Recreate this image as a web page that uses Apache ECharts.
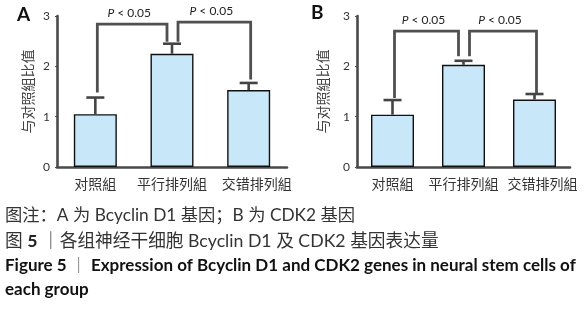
<!DOCTYPE html>
<html>
<head>
<meta charset="utf-8">
<script src="https://cdn.jsdelivr.net/npm/echarts@6/dist/echarts.min.js"></script>
<style>
  html, body { margin: 0; padding: 0; background: #fff; }
  #main { width: 588px; height: 310px; }
</style>
</head>
<body>
<div id="main"></div>
<script>
// 分组
const categories = ['对照組', '平行排列組', '交错排列組'];

// A: Bcyclin D1
const meanA = [1.05, 2.25, 1.53];
const errA = [0.33, 0.20, 0.14];
// B: CDK2
const meanB = [1.04, 2.03, 1.34];
const errB = [0.29, 0.08, 0.11];

// 显著性括号 [起点组, 终点组, 起点高度, 顶部高度, 终点高度]
const bracketsA = [[0, 1, 1.48, 2.84, 2.49], [1, 2, 2.49, 2.88, 1.74]];
const bracketsB = [[0, 1, 1.37, 2.70, 2.20], [1, 2, 2.20, 2.70, 1.47]];

const captionNote = '图注：A 为 Bcyclin D1 基因；B 为 CDK2 基因';
const captionCn = '各组神经干细胞 Bcyclin D1 及 CDK2 基因表达量';
const captionEn1 = 'Expression of Bcyclin D1 and CDK2 genes in neural stem cells of';
const captionEn2 = 'each group';

const cjk = "Lato, 'Noto Sans CJK SC', sans-serif";
const axisColor = '#4a4a4a';

function errorItem(params, api) {
  let x = api.coord([api.value(0), 0])[0];
  let yMean = api.coord([api.value(0), api.value(1)])[1];
  let yTop = api.coord([api.value(0), api.value(2)])[1];
  let style = { stroke: '#444', lineWidth: 2.6 };
  return {
    type: 'group',
    children: [
      { type: 'line', shape: { x1: x, y1: yMean, x2: x, y2: yTop }, style },
      { type: 'line', shape: { x1: x - 9, y1: yTop, x2: x + 9, y2: yTop }, style }
    ]
  };
}

function bracketItem(params, api) {
  let from = api.value(0), to = api.value(1);
  let x1 = api.coord([from, 0])[0] + (from === 1 ? 6 : 2);
  let x2 = api.coord([to, 0])[0] + (to === 1 ? -5 : 2);
  let yS = api.coord([from, api.value(2)])[1];
  let yT = api.coord([from, api.value(3)])[1];
  let yE = api.coord([from, api.value(4)])[1];
  return {
    type: 'group',
    children: [
      {
        type: 'polyline',
        shape: { points: [[x1, yS], [x1, yT], [x2, yT], [x2, yE]] },
        style: { stroke: '#505050', lineWidth: 2.8, fill: 'none' }
      },
      {
        type: 'text',
        style: {
          x: (x1 + x2) / 2 - 3, y: yT - 11,
          text: '{i|P} < 0.05',
          align: 'center', verticalAlign: 'middle',
          fill: '#222', fontSize: 12, fontFamily: 'Lato, sans-serif',
          rich: { i: { fontStyle: 'italic', fontSize: 12, fontFamily: 'Lato, sans-serif', fill: '#222' } }
        }
      }
    ]
  };
}

function makeX(gridIndex) {
  return {
    type: 'category', gridIndex, data: categories,
    axisLine: { lineStyle: { color: axisColor, width: 2.6 } },
    axisTick: { show: false },
    axisLabel: {
      interval: 0, color: '#333', fontSize: 14, margin: 10, fontFamily: cjk,
      // 最后一个标签略向右偏
      formatter: (v, i) => (i === 2 ? '{r|' + v + '}' : v),
      rich: { r: { padding: [0, 0, 0, 16], color: '#333', fontSize: 14, fontFamily: cjk } }
    }
  };
}
function makeY(gridIndex, gap) {
  return {
    type: 'value', gridIndex, min: 0, max: 3, interval: 1,
    name: '与对照組比值', nameLocation: 'middle', nameGap: gap,
    nameTextStyle: { color: '#444', fontSize: 14, fontFamily: cjk },
    axisLine: { show: true, lineStyle: { color: axisColor, width: 2.6 } },
    axisTick: { show: true, length: 2, lineStyle: { color: axisColor } },
    splitLine: { show: false },
    axisLabel: { color: '#333', fontSize: 12, margin: 7, fontFamily: 'Lato, sans-serif' }
  };
}

let chart = echarts.init(document.getElementById('main'), null, { renderer: 'canvas' });
let barStyle = { color: '#c8e7f8', borderColor: '#111', borderWidth: 1.4 };

let option = {
  backgroundColor: '#fff',
  animation: false,
  grid: [
    { left: 57, top: 16, width: 230, height: 151 },
    { left: 357, top: 16, width: 213, height: 151 }
  ],
  xAxis: [makeX(0), makeX(1)],
  yAxis: [makeY(0, 22), makeY(1, 27)],
  series: [
    { type: 'bar', xAxisIndex: 0, yAxisIndex: 0, data: meanA, barWidth: 43, itemStyle: barStyle, z: 2 },
    { type: 'bar', xAxisIndex: 1, yAxisIndex: 1, data: meanB, barWidth: 43, itemStyle: barStyle, z: 2 },
    {
      type: 'custom', xAxisIndex: 0, yAxisIndex: 0, renderItem: errorItem, z: 3,
      encode: { x: 0, y: [1, 2] },
      data: meanA.map((m, i) => [i, m, m + errA[i]])
    },
    {
      type: 'custom', xAxisIndex: 1, yAxisIndex: 1, renderItem: errorItem, z: 3,
      encode: { x: 0, y: [1, 2] },
      data: meanB.map((m, i) => [i, m, m + errB[i]])
    },
    {
      type: 'custom', xAxisIndex: 0, yAxisIndex: 0, renderItem: bracketItem, z: 4,
      encode: { x: [0, 1], y: [2, 3, 4] }, data: bracketsA
    },
    {
      type: 'custom', xAxisIndex: 1, yAxisIndex: 1, renderItem: bracketItem, z: 4,
      encode: { x: [0, 1], y: [2, 3, 4] }, data: bracketsB
    }
  ],
  graphic: [
    { type: 'text', left: 17, top: 5, style: { text: 'A', font: 'bold 19px Lato, sans-serif', fill: '#111' } },
    { type: 'text', left: 311, top: 3, style: { text: 'B', font: 'bold 19px Lato, sans-serif', fill: '#111' } },
    {
      type: 'text', left: 5, top: 207,
      style: { text: captionNote, fontSize: 17.3, fontFamily: cjk, fill: '#333' }
    },
    {
      type: 'text', left: 5, top: 232,
      style: {
        text: '图 {b|5} ｜' + captionCn,
        fontSize: 17.7, fontFamily: cjk, fill: '#333',
        rich: { b: { fontWeight: 'bold', fontSize: 17.7, fontFamily: cjk, fill: '#222' } }
      }
    },
    {
      type: 'text', left: 5, top: 257,
      style: {
        text: 'Figure 5 {s|｜} ' + captionEn1,
        font: 'bold 17px Lato, sans-serif', fill: '#111',
        rich: { s: { fontWeight: 'normal', fontSize: 16, fontFamily: cjk, fill: '#555' } }
      }
    },
    {
      type: 'text', left: 5, top: 281,
      style: { text: captionEn2, font: 'bold 17px Lato, sans-serif', fill: '#111' }
    }
  ]
};
chart.setOption(option);
</script>
</body>
</html>
